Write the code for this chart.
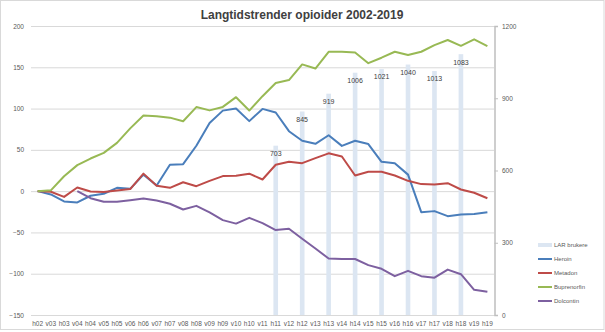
<!DOCTYPE html>
<html>
<head>
<meta charset="utf-8">
<script src="https://cdn.jsdelivr.net/npm/d3@7"></script>
<style>
  html, body { margin: 0; padding: 0; background: #fff; }
  svg { display: block; }
</style>
</head>
<body>
<div id="chart"></div>
<script>
const periods = ['h02', 'v03', 'h03', 'v04', 'h04', 'v05', 'h05', 'v06', 'h06', 'v07', 'h07', 'v08', 'h08', 'v09', 'h09',
  'v10', 'h10', 'v11', 'h11', 'v12', 'h12', 'v13', 'h13', 'v14', 'h14', 'v15', 'h15', 'v16', 'h16', 'v17', 'h17', 'v18',
  'h18', 'v19', 'h19'];

// LAR brukere (right axis), only reported for the h-periods from h11
const larPeriods = ['h11', 'h12', 'h13', 'h14', 'h15', 'h16', 'h17', 'h18'];
const larValues = [703, 845, 919, 1006, 1021, 1040, 1013, 1083];

const heroin = [0, -4, -12.5, -13.7, -5.6, -3.2, 4, 2.8, 20, 6.8, 32, 32.7, 55, 82.5, 97.5, 100, 84.8, 99.6, 95.3, 72.6,
  61, 57.3, 67.7, 54.8, 61, 57, 35.5, 33.9, 20, -25.5, -24.2, -30.3, -28.3, -27.6, -25.5];
const metadon = [0, -0.8, -7, 4.4, -0.4, -1, 0.8, 2.5, 21.2, 6.5, 4, 10.8, 6, 12.5, 18.2, 18.6, 21.2, 14.1, 32, 35.5,
  33.9, 40, 45.8, 42, 19, 23.4, 23.4, 19, 12.5, 8.5, 8, 9.6, 2, -2, -8.6];
const buprenorfin = [0, 1, 18, 31.5, 39.5, 46.4, 58.5, 76, 91.5, 90.8, 89, 84.7, 101.8, 97.8, 102, 113.8, 97.6, 115, 131,
  134.5, 153.5, 148.5, 168.8, 168.8, 168, 155, 161.6, 168.8, 164.8, 168.8, 176.9, 183, 176, 183.8, 175.7];
const dolcontin = [null, null, null, 0, -8.5, -12.9, -12.9, -10.9, -8.9, -11.3, -15.3, -22.2, -17.8, -25.8, -35.1, -39.3,
  -32.3, -38.7, -47.2, -45.6, -57.7, -69.5, -81.6, -82.2, -82.2, -89.6, -94, -103, -96.5, -103, -104.8, -95, -100.6,
  -119.5, -121.9];

const leftTicks = [-150, -100, -50, 0, 50, 100, 150, 200];
const rightTicks = [0, 300, 600, 900, 1200];

const seriesNames = ['Heroin', 'Metadon', 'Buprenorfin', 'Dolcontin'];
const seriesValues = [heroin, metadon, buprenorfin, dolcontin];
const seriesColors = ['#4a7ebb', '#be4b48', '#98b954', '#7d60a0'];
const barColor = '#dce6f2';
const barName = 'LAR brukere';

const width = 605,
  height = 332,
  plot = { left: 31, right: 494, top: 26, bottom: 315 },
  labelFont = '"Liberation Sans", Arial, sans-serif',
  axisGrey = '#595959';

const svg = d3
  .select('#chart')
  .append('svg')
  .attr('width', width)
  .attr('height', height)
  .style('font-family', labelFont);

// chart area frame
svg
  .append('rect')
  .attr('x', 0.5)
  .attr('y', 0.5)
  .attr('width', width - 1.5)
  .attr('height', 329)
  .attr('fill', '#fff')
  .attr('stroke', '#d9d9d9');

const x = d3
  .scaleBand()
  .domain(periods)
  .range([plot.left, plot.right]);

const yLeft = d3
  .scaleLinear()
  .domain([-150, 200])
  .range([plot.bottom, plot.top]);

const yRight = d3
  .scaleLinear()
  .domain([0, 1200])
  .range([plot.bottom, plot.top]);

const cx = p => x(p) + x.bandwidth() / 2;

// gridlines + left labels
const leftAxis = svg
  .append('g')
  .attr('transform', `translate(${plot.left},0)`)
  .call(
    d3
      .axisLeft(yLeft)
      .tickValues(leftTicks)
      .tickSize(-(plot.right - plot.left))
      .tickPadding(7)
  );
leftAxis.select('.domain').remove();
leftAxis.selectAll('line').attr('stroke', '#d9d9d9').attr('stroke-width', 1);
leftAxis
  .selectAll('text')
  .attr('fill', axisGrey)
  .style('font-size', '6.5px')
  .style('font-family', labelFont);

// bars
svg
  .append('g')
  .selectAll('rect')
  .data(larPeriods)
  .join('rect')
  .attr('x', d => cx(d) - x.bandwidth() * 0.175)
  .attr('width', x.bandwidth() * 0.35)
  .attr('y', (d, i) => yRight(larValues[i]))
  .attr('height', (d, i) => yRight(0) - yRight(larValues[i]))
  .attr('fill', barColor);

// right axis
const rightAxis = svg
  .append('g')
  .attr('transform', `translate(${plot.right + 0.5},0)`)
  .call(
    d3
      .axisRight(yRight)
      .tickValues(rightTicks)
      .tickFormat(d3.format('d'))
      .tickSize(3.5)
      .tickPadding(4)
  );
rightAxis.select('.domain').attr('stroke', '#bfbfbf').attr('stroke-width', 1.5);
rightAxis.selectAll('line').attr('stroke', '#bfbfbf');
rightAxis
  .selectAll('text')
  .attr('fill', axisGrey)
  .style('font-size', '6.5px')
  .style('font-family', labelFont);

// x labels
const bottomAxis = svg
  .append('g')
  .attr('transform', `translate(0,${plot.bottom})`)
  .call(
    d3
      .axisBottom(x)
      .tickSize(0)
      .tickPadding(6)
  );
bottomAxis.select('.domain').remove();
bottomAxis
  .selectAll('text')
  .attr('fill', axisGrey)
  .style('font-size', '6.5px')
  .style('font-family', labelFont);

// lines
const lineFn = d3
  .line()
  .defined(d => d.v !== null)
  .x(d => cx(d.p))
  .y(d => yLeft(d.v));

svg
  .append('g')
  .selectAll('path')
  .data(seriesValues)
  .join('path')
  .attr('d', vals => lineFn(vals.map((v, i) => ({ p: periods[i], v }))))
  .attr('fill', 'none')
  .attr('stroke', (d, i) => seriesColors[i])
  .attr('stroke-width', 2)
  .attr('stroke-linejoin', 'round');

// bar value labels
svg
  .append('g')
  .selectAll('text')
  .data(larPeriods)
  .join('text')
  .attr('x', d => cx(d))
  .attr('y', (d, i) => yRight(larValues[i]) + 8.5)
  .attr('text-anchor', 'middle')
  .attr('dominant-baseline', 'middle')
  .attr('fill', '#404040')
  .style('font-size', '7px')
  .text((d, i) => larValues[i]);

// title
svg
  .append('text')
  .attr('x', 302)
  .attr('y', 19)
  .attr('text-anchor', 'middle')
  .attr('fill', '#404040')
  .style('font-family', labelFont)
  .style('font-weight', 'bold')
  .style('font-size', '12px')
  .text('Langtidstrender opioider 2002-2019');

// legend
const legend = svg
  .append('g')
  .attr('transform', 'translate(538,245)');

const legendItems = [barName].concat(seriesNames);

legendItems.forEach((name, i) => {
  const row = legend.append('g').attr('transform', `translate(0,${i * 14})`);
  if (i === 0) {
    row
      .append('rect')
      .attr('x', 0)
      .attr('y', -2)
      .attr('width', 14)
      .attr('height', 4)
      .attr('fill', barColor);
  } else {
    row
      .append('line')
      .attr('x1', 0)
      .attr('x2', 14)
      .attr('stroke', seriesColors[i - 1])
      .attr('stroke-width', 2);
  }
  row
    .append('text')
    .attr('x', 16)
    .attr('dominant-baseline', 'middle')
    .attr('fill', axisGrey)
    .style('font-size', '6px')
    .text(name);
});
</script>
</body>
</html>
